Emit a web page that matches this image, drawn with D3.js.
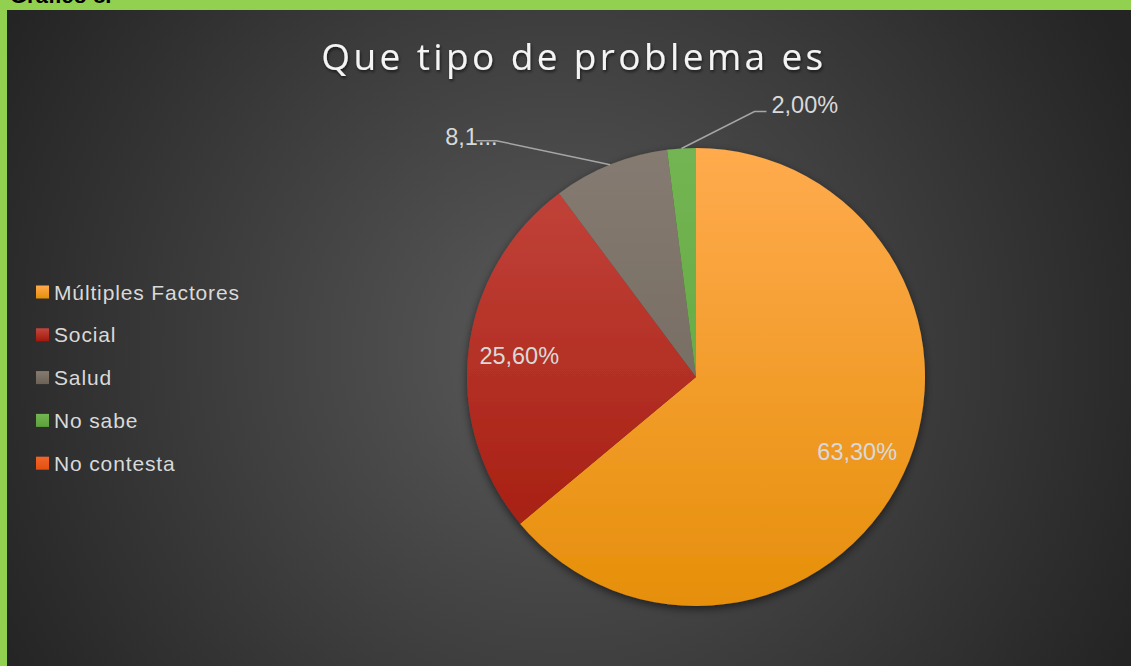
<!DOCTYPE html>
<html>
<head>
<meta charset="utf-8">
<script src="https://cdn.jsdelivr.net/npm/d3@7/dist/d3.min.js"></script>
<style>
html,body{margin:0;padding:0;background:#92D050;overflow:hidden;}
svg{display:block;}
</style>
</head>
<body>
<svg id="chart" width="1131" height="666"></svg>
<script>
const categories = ["Múltiples Factores", "Social", "Salud", "No sabe", "No contesta"];
const values = [63.3, 25.6, 8.1, 2.0, 0];
const labels = ["63,30%", "25,60%", "8,1...", "2,00%", ""];
const colorsTop = ["#FFAB4E", "#C4463E", "#857B71", "#72B552", "#F4652A"];
const colorsBottom = ["#E68F0A", "#A2180A", "#6B6157", "#5EA23C", "#E2500F"];

const W = 1131, H = 666;
const svg = d3.select("#chart");
const defs = svg.append("defs");

// background gradient
const bg = defs.append("radialGradient").attr("id","bg")
  .attr("gradientUnits","userSpaceOnUse").attr("cx",560).attr("cy",350).attr("r",640);
bg.append("stop").attr("offset","0%").attr("stop-color","#5a5a5a");
bg.append("stop").attr("offset","100%").attr("stop-color","#242424");

svg.append("rect").attr("width",W).attr("height",H).attr("fill","#92D050");
svg.append("text").attr("x",10).attr("y",3)
  .attr("font-family","Liberation Sans, Arial, sans-serif").attr("font-size",22).attr("font-weight","bold")
  .attr("fill","#000").text("Gráfico 8.");
svg.append("rect").attr("x",7).attr("y",10).attr("width",W-7).attr("height",H-10).attr("fill","url(#bg)");

// filters
const sh = defs.append("filter").attr("id","pieShadow").attr("x","-20%").attr("y","-20%").attr("width","140%").attr("height","140%");
sh.append("feDropShadow").attr("dx",0).attr("dy",3).attr("stdDeviation",4).attr("flood-color","#000").attr("flood-opacity",0.55);
const tsh = defs.append("filter").attr("id","textShadow").attr("x","-10%").attr("y","-30%").attr("width","120%").attr("height","160%");
tsh.append("feDropShadow").attr("dx",1).attr("dy",2).attr("stdDeviation",1.5).attr("flood-color","#000").attr("flood-opacity",0.6);

const cx = 696, cy = 377, R = 229;

// slice gradients (in pie-local coordinates)
categories.forEach((c,i)=>{
  const g = defs.append("linearGradient").attr("id","g"+i)
    .attr("gradientUnits","userSpaceOnUse").attr("x1",0).attr("y1",-R).attr("x2",0).attr("y2",R);
  g.append("stop").attr("offset","0%").attr("stop-color",colorsTop[i]);
  g.append("stop").attr("offset","100%").attr("stop-color",colorsBottom[i]);
});

// title
const titleText = "Que tipo de problema es";
const title = svg.append("text").attr("x",574).attr("y",70).attr("text-anchor","middle")
  .attr("font-family","Open Sans, Liberation Sans, sans-serif").attr("font-size",37)
  .attr("fill","#f4f4f4").attr("filter","url(#textShadow)").text(titleText);
{
  const w = title.node().getComputedTextLength();
  title.attr("letter-spacing", ((502 - w)/(titleText.length-1)).toFixed(2) + "px");
}

const pie = d3.pie().sort(null).value(d=>d.v);
const data = pie(categories.map((c,i)=>({c, v:values[i], i})));
const arc = d3.arc().innerRadius(0).outerRadius(R);
const gPie = svg.append("g").attr("transform",`translate(${cx},${cy})`);
gPie.append("g").attr("filter","url(#pieShadow)")
  .selectAll("path").data(data.filter(d=>d.data.v>0)).join("path")
  .attr("d",arc)
  .attr("fill",d=>`url(#g${d.data.i})`);

const labelFont = "Liberation Sans, Arial, sans-serif";
const labelColor = "#d9d9d9";

// inside labels
const inArc = d3.arc().innerRadius(178).outerRadius(178);
gPie.selectAll("text.in").data(data.filter(d=>d.data.i<2)).join("text")
  .attr("class","in")
  .attr("x",d=>inArc.centroid(d)[0]).attr("y",d=>inArc.centroid(d)[1]+8)
  .attr("text-anchor","middle").attr("font-family",labelFont).attr("font-size",23.5)
  .attr("fill",labelColor).text(d=>labels[d.data.i]);

// outside labels with leader lines
const edge = d3.arc().innerRadius(R).outerRadius(R);
const outside = [
  {i:2, elbow:[-114,-24], end:[-134,-24], tx:-165, ty:-20},
  {i:3, elbow:[73,-37], end:[85,-37], tx:90, ty:-35}
];
outside.forEach(o=>{
  const d = data[o.i];
  const p = edge.centroid(d);
  const e = [p[0]+o.elbow[0], p[1]+o.elbow[1]];
  const f = [p[0]+o.end[0], p[1]+o.end[1]];
  gPie.append("text").attr("x",p[0]+o.tx).attr("y",p[1]+o.ty)
    .attr("font-family",labelFont).attr("font-size",23.5).attr("fill",labelColor)
    .text(labels[o.i]);
  gPie.append("polyline").attr("points",[p,e,f].map(q=>q.join(",")).join(" "))
    .attr("fill","none").attr("stroke","#a6a6a6").attr("stroke-width",1.5);
});

// legend
categories.forEach((c,i)=>{
  const g = defs.append("linearGradient").attr("id","lg"+i).attr("x1",0).attr("y1",0).attr("x2",0).attr("y2",1);
  g.append("stop").attr("offset","0%").attr("stop-color",colorsTop[i]);
  g.append("stop").attr("offset","100%").attr("stop-color",colorsBottom[i]);
});
const leg = svg.append("g").attr("transform","translate(36,292)");
const items = leg.selectAll("g").data(categories).join("g")
  .attr("transform",(d,i)=>`translate(0,${i*42.8})`);
items.append("rect").attr("x",0).attr("y",-6.5).attr("width",13).attr("height",13)
  .attr("fill",(d,i)=>`url(#lg${i})`);
const lt = items.append("text").attr("x",18).attr("y",7.5)
  .attr("font-family",labelFont).attr("font-size",21).attr("fill",labelColor).text(d=>d);
{
  const w = lt.nodes()[0].getComputedTextLength();
  const ls = Math.max(0, (185 - w)/(categories[0].length-1));
  lt.attr("letter-spacing", ls.toFixed(2)+"px");
}
</script>
</body>
</html>
